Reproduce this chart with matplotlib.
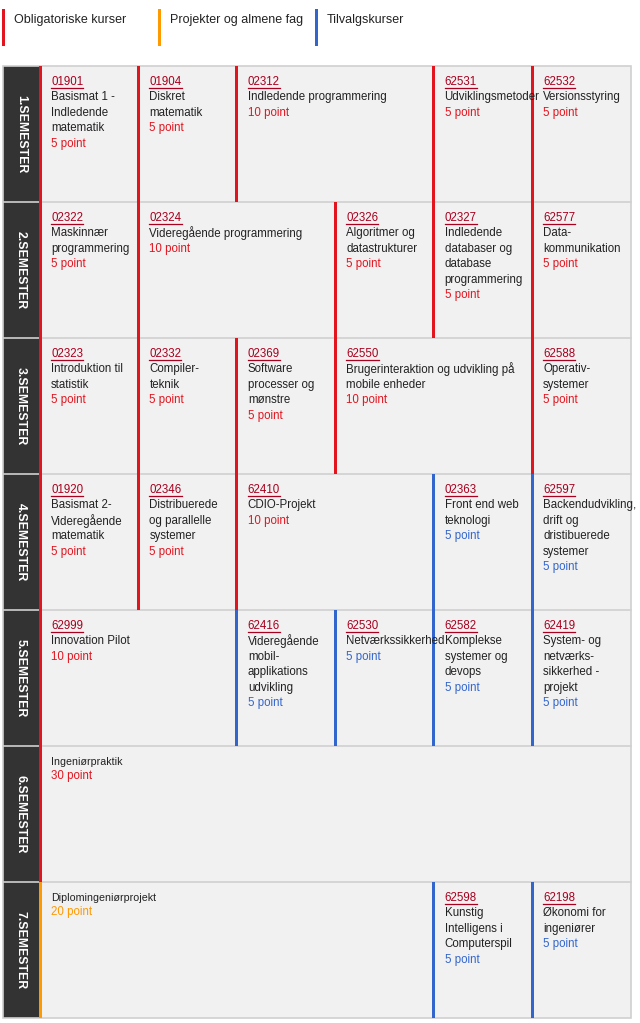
import matplotlib
matplotlib.use("Agg")
import matplotlib.pyplot as plt
from matplotlib.patches import Rectangle

plt.rcParams['font.family'] = ['Liberation Sans', 'DejaVu Sans']

# colours per course type
kind_colors = {'obl': '#e2151f', 'proj': '#ff9900', 'valg': '#3366cc'}
legend_kinds = ['obl', 'proj', 'valg']
legend_labels = ['Obligatoriske kurser', 'Projekter og almene fag', 'Tilvalgskurser']

semesters = ['1.SEMESTER', '2.SEMESTER', '3.SEMESTER', '4.SEMESTER',
             '5.SEMESTER', '6.SEMESTER', '7.SEMESTER']

sem1_codes = ['01901', '01904', '02312', '62531', '62532']
sem1_titles = ['Basismat 1 -\nIndledende\nmatematik', 'Diskret\nmatematik',
               'Indledende programmering', 'Udviklingsmetoder', 'Versionsstyring']
sem1_points = [5, 5, 10, 5, 5]
sem1_kinds = ['obl', 'obl', 'obl', 'obl', 'obl']

sem2_codes = ['02322', '02324', '02326', '02327', '62577']
sem2_titles = ['Maskinnær\nprogrammering', 'Videregående programmering',
               'Algoritmer og\ndatastrukturer',
               'Indledende\ndatabaser og\ndatabase\nprogrammering', 'Data-\nkommunikation']
sem2_points = [5, 10, 5, 5, 5]
sem2_kinds = ['obl', 'obl', 'obl', 'obl', 'obl']

sem3_codes = ['02323', '02332', '02369', '62550', '62588']
sem3_titles = ['Introduktion til\nstatistik', 'Compiler-\nteknik',
               'Software\nprocesser og\nmønstre',
               'Brugerinteraktion og udvikling på\nmobile enheder', 'Operativ-\nsystemer']
sem3_points = [5, 5, 5, 10, 5]
sem3_kinds = ['obl', 'obl', 'obl', 'obl', 'obl']

sem4_codes = ['01920', '02346', '62410', '02363', '62597']
sem4_titles = ['Basismat 2-\nVideregående\nmatematik', 'Distribuerede\nog parallelle\nsystemer',
               'CDIO-Projekt', 'Front end web\nteknologi',
               'Backendudvikling,\ndrift og\ndristibuerede\nsystemer']
sem4_points = [5, 5, 10, 5, 5]
sem4_kinds = ['obl', 'obl', 'obl', 'valg', 'valg']

sem5_codes = ['62999', '62416', '62530', '62582', '62419']
sem5_titles = ['Innovation Pilot', 'Videregående\nmobil-\napplikations\nudvikling',
               'Netværkssikkerhed', 'Komplekse\nsystemer og\ndevops',
               'System- og\nnetværks-\nsikkerhed -\nprojekt']
sem5_points = [10, 5, 5, 5, 5]
sem5_kinds = ['obl', 'valg', 'valg', 'valg', 'valg']

sem6_codes = ['']
sem6_titles = ['Ingeniørpraktik']
sem6_points = [30]
sem6_kinds = ['obl']

sem7_codes = ['', '62598', '62198']
sem7_titles = ['Diplomingeniørprojekt', 'Kunstig\nIntelligens i\nComputerspil',
               'Økonomi for\ningeniører']
sem7_points = [20, 5, 5]
sem7_kinds = ['proj', 'valg', 'valg']

all_codes = [sem1_codes, sem2_codes, sem3_codes, sem4_codes, sem5_codes, sem6_codes, sem7_codes]
all_titles = [sem1_titles, sem2_titles, sem3_titles, sem4_titles, sem5_titles, sem6_titles, sem7_titles]
all_points = [sem1_points, sem2_points, sem3_points, sem4_points, sem5_points, sem6_points, sem7_points]
all_kinds = [sem1_kinds, sem2_kinds, sem3_kinds, sem4_kinds, sem5_kinds, sem6_kinds, sem7_kinds]

# layout in pixels
W, H = 640, 1023
lab_left, grid_left, grid_right = 3, 38.5, 631
top, row_h = 66, 136
col_w = 98.4
line_h = 15.4
fs = 8.3

fig = plt.figure(figsize=(W / 100, H / 100), dpi=100)
ax = fig.add_axes([0, 0, 1, 1])
ax.set_xlim(0, W)
ax.set_ylim(H, 0)
ax.axis('off')

# legend
for i, (k, lab) in enumerate(zip(legend_kinds, legend_labels)):
    x0 = [2, 158, 315][i]
    ax.add_patch(Rectangle((x0, 9), 3, 37, color=kind_colors[k], lw=0))
    ax.text(x0 + 12, 20.5, lab, fontsize=9, color='#222222', va='center', ha='left')

n = len(semesters)
ax.add_patch(Rectangle((grid_left, top), grid_right - grid_left, n * row_h,
                       facecolor='#f1f1f1', edgecolor='none', zorder=1))
ax.add_patch(Rectangle((lab_left, top), grid_left - lab_left, n * row_h,
                       facecolor='#333333', edgecolor='none', zorder=1))
ax.add_patch(Rectangle((lab_left - 0.5, top), grid_right - lab_left + 0.5, n * row_h,
                       facecolor='none', edgecolor='#d0d0d0', lw=1.2, zorder=2))
for r in range(1, n):
    ax.plot([lab_left, grid_right], [top + r * row_h] * 2, color='#d0d0d0', lw=1.2, zorder=2)

fig.canvas.draw()
renderer = fig.canvas.get_renderer()
inv = ax.transData.inverted()

for r in range(n):
    y0 = top + r * row_h
    ax.text((lab_left + grid_left) / 2, y0 + row_h / 2, semesters[r], rotation=-90,
            color='white', fontsize=8.8, fontweight='bold', ha='center', va='center',
            zorder=4)
    col = 0
    for code, title, pts, kind in zip(all_codes[r], all_titles[r], all_points[r], all_kinds[r]):
        x0 = grid_left + col * col_w
        ax.add_patch(Rectangle((x0, y0), 3, row_h, color=kind_colors[kind], lw=0, zorder=3))
        tx = x0 + 12.5
        ty = y0 + 16
        if code:
            t = ax.text(tx, ty, code, fontsize=fs, color='#a8001e', va='center', ha='left',
                        zorder=4)
            bb = t.get_window_extent(renderer=renderer)
            (ux0, _), (ux1, _) = inv.transform([(bb.x0, bb.y0), (bb.x1, bb.y0)])
            ax.plot([ux0, ux1], [ty + 5.5] * 2, color='#a8001e', lw=0.9, zorder=4)
            ty += line_h
            tfs = fs
        else:
            tfs = 7.7
        for line in title.split('\n'):
            ax.text(tx, ty, line, fontsize=tfs, color='#222222', va='center', ha='left', zorder=4)
            ty += line_h if code else 14.5
        ax.text(tx, ty, f'{pts} point', fontsize=fs, color=kind_colors[kind],
                va='center', ha='left', zorder=4)
        col += pts // 5

fig.savefig('out.png', dpi=100)
